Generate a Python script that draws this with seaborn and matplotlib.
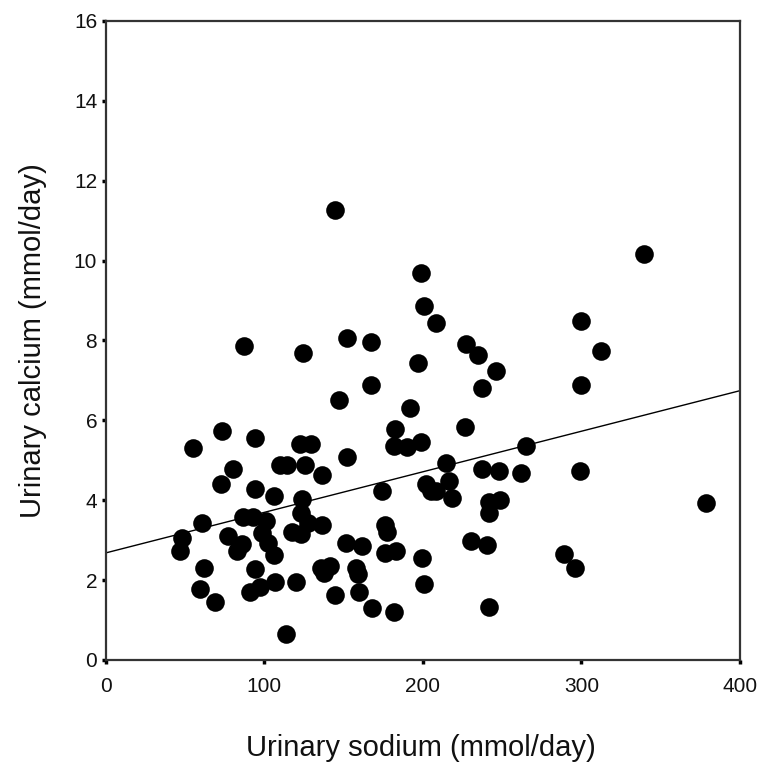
import numpy as np
import pandas as pd
import matplotlib
matplotlib.use("Agg")
import matplotlib.pyplot as plt
import seaborn as sns

# Urinary sodium (mmol/day)
sodium = [
    144.6, 198.6, 200.6, 208.2, 87.4, 124.4, 152.3, 167.2, 197.1, 167.2,
    147.3, 191.9, 227.1, 235.1, 246.0, 237.6, 300.0, 312.1, 300.0, 339.2,
    73.2, 94.2, 55.3, 122.7, 129.3, 182.6, 181.8, 190.0, 198.8, 152.3,
    109.9, 114.1, 125.5, 136.2, 80.5, 73.0, 94.2, 106.1, 124.0, 174.0,
    60.8, 48.2, 47.2, 86.8, 93.1, 101.0, 77.0, 86.3, 83.1, 98.4,
    102.6, 106.5, 123.0, 127.5, 136.2, 117.3, 123.0, 176.0, 177.5, 176.1,
    183.4, 151.4, 161.6, 199.5, 62.3, 94.2, 135.6, 141.5, 138.0, 157.8,
    159.3, 59.5, 69.0, 91.0, 97.5, 106.8, 120.0, 144.6, 160.0, 168.2,
    182.0, 113.6, 200.8, 226.8, 265.0, 214.9, 237.5, 248.1, 262.2, 298.9,
    201.8, 205.0, 208.1, 216.5, 218.6, 241.8, 248.5, 242.0, 378.3, 230.7,
    240.5, 289.0, 295.7, 241.8,
]
# Urinary calcium (mmol/day)
calcium = [
    11.27, 9.69, 8.87, 8.43, 7.85, 7.69, 8.06, 7.97, 7.43, 6.88,
    6.50, 6.32, 7.91, 7.64, 7.23, 6.81, 8.50, 7.74, 6.88, 10.17,
    5.74, 5.56, 5.31, 5.41, 5.41, 5.78, 5.36, 5.34, 5.45, 5.09,
    4.88, 4.88, 4.88, 4.63, 4.78, 4.40, 4.28, 4.11, 4.03, 4.24,
    3.42, 3.06, 2.73, 3.57, 3.57, 3.48, 3.11, 2.90, 2.73, 3.17,
    2.94, 2.64, 3.67, 3.44, 3.38, 3.21, 3.15, 3.39, 3.20, 2.69,
    2.73, 2.94, 2.85, 2.56, 2.31, 2.27, 2.31, 2.36, 2.17, 2.30,
    2.15, 1.77, 1.46, 1.71, 1.82, 1.96, 1.96, 1.63, 1.69, 1.29,
    1.19, 0.64, 1.89, 5.83, 5.36, 4.92, 4.78, 4.73, 4.67, 4.72,
    4.40, 4.24, 4.24, 4.49, 4.06, 3.96, 4.01, 3.68, 3.94, 2.98,
    2.87, 2.65, 2.31, 1.33,
]

x_ticks = [0, 100, 200, 300, 400]
y_ticks = [0, 2, 4, 6, 8, 10, 12, 14, 16]
x_label = "Urinary sodium (mmol/day)"
y_label = "Urinary calcium (mmol/day)"

df = pd.DataFrame({"sodium": sodium, "calcium": calcium})

sns.set_theme(style="white")
plt.rcParams["font.family"] = ["Liberation Sans", "DejaVu Sans"]

fig = plt.figure(figsize=(7.63, 7.71), dpi=100)
ax = fig.add_axes([0.1383, 0.144, 0.8316, 0.8288])
ax.set_xlim(0, 400)
ax.set_ylim(0, 16)

sns.regplot(
    data=df, x="sodium", y="calcium", ax=ax, ci=None, truncate=False,
    scatter_kws=dict(s=180, color="black", linewidths=0, alpha=1),
    line_kws=dict(color="black", lw=1.0),
)
ax.set_xlim(0, 400)
ax.set_ylim(0, 16)

ax.set_xticks(x_ticks)
ax.set_yticks(y_ticks)
ax.tick_params(axis="both", direction="out", length=3, width=2.5,
               color="black", labelsize=15, labelcolor="#111111", pad=3,
               bottom=True, left=True)
ax.tick_params(axis="x", pad=9)
for s in ax.spines.values():
    s.set_visible(True)
    s.set_color("#333333")
    s.set_linewidth(1.6)

ax.set_xlabel(x_label, fontsize=21, color="#111111")
ax.set_ylabel(y_label, fontsize=21, color="#111111")
ax.xaxis.label.set_va("center")
ax.yaxis.label.set_va("center")
ax.xaxis.set_label_coords(0.497, -0.138)
ax.yaxis.set_label_coords(-0.114, 0.5)

fig.savefig("out.png", dpi=100, facecolor="white")
